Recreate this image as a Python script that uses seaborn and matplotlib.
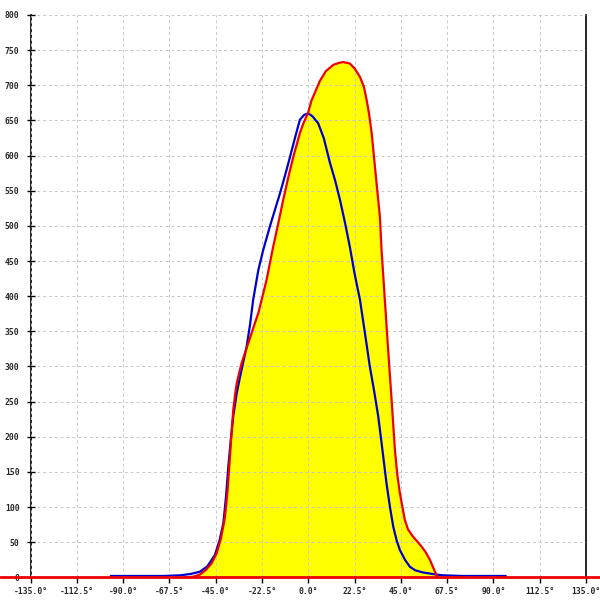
import numpy as np
import pandas as pd
import matplotlib
matplotlib.use("Agg")
import matplotlib.pyplot as plt
import matplotlib.transforms as mtransforms
import seaborn as sns

# red (filled) curve: angle in degrees, value
red_angle = [-60, -55.8, -52.7, -50, -47, -44.6, -42.5, -40.5, -39.2, -38.1,
             -37.2, -36.5, -35.5, -34.8, -33.5, -32.4, -29.2, -26.5, -24.3, -21.9,
             -20.3, -17.1, -14.5, -12.2, -9.5, -7.3, -4.1, -2.5, 0, 1.5,
             5.6, 8.5, 12.1, 15, 17, 20.2, 22.5, 25.1, 27, 28.3,
             29.5, 30.8, 32.4, 33.2, 34.8, 35.6, 37.2, 38.8, 40.5, 42.1,
             43.3, 44.5, 46.9, 48.5, 50.9, 53, 55, 57, 59.1, 61,
             62.3, 63]
red_value = [0, 1, 4, 10, 20, 34, 55, 86, 125, 172,
             210, 238, 262, 276, 292, 305, 333, 357, 376, 404,
             423, 470, 505, 537, 572, 598, 632, 645, 662, 678,
             706, 720, 729, 732, 733, 731, 724, 712, 698, 680,
             660, 632, 584, 560, 513, 466, 395, 324, 252, 181,
             145, 120, 82, 68, 58, 51, 44, 36, 25, 12,
             3, 0]

# blue curve
blue_angle = [-96, -80, -70, -62, -57, -52.7, -49, -45.4, -43.2, -41.3,
              -40, -38.9, -37.7, -36.5, -34.8, -33.2, -30, -28.3, -26.8, -24.3,
              -21.9, -18.7, -16, -13.8, -11.3, -8.9, -6.5, -4.1, -2, 0,
              2, 4.8, 7.5, 10.5, 13, 15.4, 17.8, 20.2, 22.5, 25.1,
              27.5, 29.9, 32, 34, 36, 38, 39.7, 41.3, 43, 44.5,
              47, 49.4, 52, 55.8, 60, 65, 75, 96]
blue_value = [2, 2, 2, 3, 5, 8, 16, 32, 52, 77,
              115, 157, 195, 229, 262, 285, 328, 360, 395, 437,
              466, 499, 525, 546, 572, 598, 625, 651, 658, 660,
              656, 646, 625, 590, 565, 537, 505, 470, 432, 395,
              348, 300, 265, 229, 182, 134, 100, 72, 52, 39,
              25, 15, 10, 7, 5, 3, 2, 2]

x_ticks = [-135.0, -112.5, -90.0, -67.5, -45.0, -22.5, 0.0, 22.5, 45.0, 67.5, 90.0, 112.5, 135.0]
y_ticks = [0, 50, 100, 150, 200, 250, 300, 350, 400, 450, 500, 550, 600, 650, 700, 750, 800]

sns.set_style("white")
plt.rcParams['font.family'] = ['DejaVu Sans Mono']

fig = plt.figure(figsize=(6, 6), dpi=100)
ax = fig.add_axes([0.051, 0.0377, 0.9257, 0.9373])

red_df = pd.DataFrame({'angle': red_angle, 'value': red_value})
blue_df = pd.DataFrame({'angle': blue_angle, 'value': blue_value})

ax.fill_between(red_df['angle'], red_df['value'], 0, color='#FFFF00', lw=0, zorder=1)
sns.lineplot(data=blue_df, x='angle', y='value', color='#0000CC', lw=1.6,
             sort=False, estimator=None, ax=ax, zorder=3)
sns.lineplot(data=red_df, x='angle', y='value', color='#EE0000', lw=1.6,
             sort=False, estimator=None, ax=ax, zorder=4)

# red baseline across the whole figure width
trans = mtransforms.blended_transform_factory(fig.transFigure, ax.transData)
ax.plot([0, 1], [0, 0], transform=trans, color='#EE0000', lw=2, clip_on=False, zorder=5)

ax.set_xlim(-135, 135)
ax.set_ylim(0, 800)
ax.set_xticks(x_ticks)
ax.set_xticklabels([f"{t:.1f}°" for t in x_ticks])
ax.set_yticks(y_ticks)
ax.set_yticklabels([str(t) for t in y_ticks])
ax.set_xlabel('')
ax.set_ylabel('')

ax.set_axisbelow(False)
ax.grid(True, color='#C8C8C8', linestyle=(0, (3, 3)), lw=0.7)

for s in ['top', 'bottom']:
    ax.spines[s].set_visible(False)
for s in ['left', 'right']:
    ax.spines[s].set_color('black')
    ax.spines[s].set_linewidth(1.2)

ax.tick_params(axis='y', direction='inout', length=6, width=1, color='black',
               labelsize=5.8, pad=5, left=True)
ax.tick_params(axis='x', direction='out', length=4, width=1, color='black',
               labelsize=5.8, pad=3, bottom=True)
for lab in ax.get_xticklabels() + ax.get_yticklabels():
    lab.set_fontweight('bold')

fig.savefig('out.png', dpi=100)
